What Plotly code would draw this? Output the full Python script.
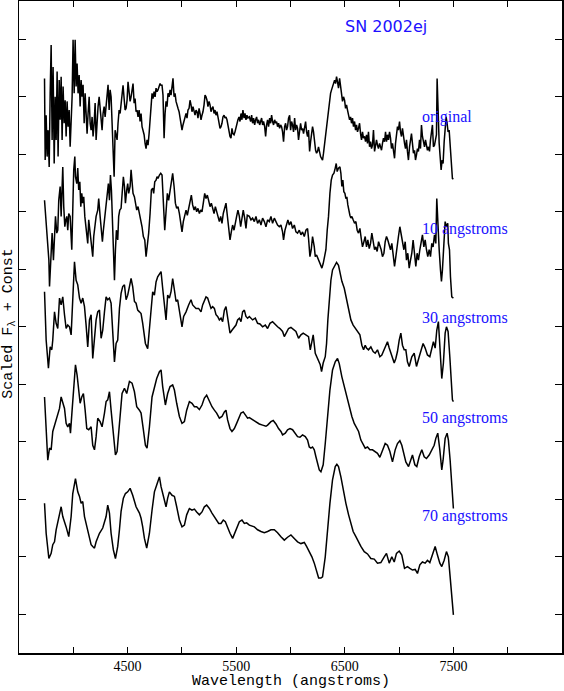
import plotly.graph_objects as go

# ---------------- data (wavelength in angstroms, scaled flux + constant) ----------------
WL_ORIGINAL = [
    3735, 3741, 3750, 3759, 3768, 3778, 3787, 3796, 3805, 3814,
    3824, 3833, 3842, 3851, 3860, 3870, 3879, 3888, 3897, 3906,
    3916, 3925, 3934, 3943, 3952, 3962, 3971, 3980, 3989, 3998,
    4008, 4017, 4026, 4035, 4044, 4054, 4063, 4072, 4081, 4090,
    4100, 4109, 4118, 4127, 4136, 4146, 4155, 4164, 4173, 4182,
    4192, 4201, 4210, 4219, 4228, 4238, 4247, 4256, 4265, 4274,
    4284, 4293, 4302, 4311, 4320, 4330, 4339, 4348, 4357, 4366,
    4376, 4385, 4394, 4403, 4412, 4422, 4431, 4440, 4449, 4458,
    4468, 4477, 4486, 4495, 4504, 4514, 4523, 4532, 4541, 4550,
    4560, 4569, 4578, 4587, 4596, 4606, 4615, 4624, 4633, 4642,
    4652, 4661, 4670, 4679, 4688, 4698, 4707, 4716, 4725, 4734,
    4744, 4753, 4762, 4771, 4780, 4790, 4799, 4808, 4817, 4826,
    4836, 4845, 4854, 4863, 4872, 4882, 4891, 4900, 4909, 4918,
    4928, 4937, 4946, 4955, 4964, 4974, 4983, 4992, 5001, 5010,
    5020, 5029, 5038, 5047, 5056, 5066, 5075, 5084, 5093, 5102,
    5112, 5121, 5130, 5139, 5148, 5158, 5167, 5176, 5185, 5194,
    5204, 5213, 5222, 5231, 5240, 5250, 5259, 5268, 5277, 5286,
    5296, 5305, 5314, 5323, 5332, 5342, 5351, 5360, 5369, 5378,
    5388, 5397, 5406, 5415, 5424, 5434, 5443, 5452, 5461, 5470,
    5480, 5489, 5498, 5507, 5516, 5526, 5535, 5544, 5553, 5562,
    5572, 5581, 5590, 5599, 5608, 5621,
    5633, 5642, 5651, 5660, 5670, 5679, 5688, 5697, 5706, 5716,
    5725, 5734, 5743, 5752, 5762, 5771, 5780, 5789, 5798, 5808,
    5817, 5826, 5835, 5844, 5854, 5863, 5872, 5881, 5890, 5900,
    5909, 5918, 5927, 5936, 5946, 5955, 5964, 5973, 5982, 5992,
    6001, 6010, 6019, 6028, 6038, 6047, 6056, 6065, 6074, 6084,
    6093, 6102, 6111, 6120, 6130, 6139, 6148, 6157, 6166, 6176,
    6185, 6194, 6203, 6212, 6222, 6231, 6240, 6249, 6258, 6268,
    6277, 6286, 6295, 6304, 6314, 6323, 6332, 6341, 6350, 6360,
    6369, 6378, 6387, 6396, 6406, 6415, 6424, 6433, 6442, 6452,
    6461, 6470, 6479, 6488, 6498, 6507, 6516, 6525, 6534, 6544,
    6553, 6562, 6571, 6580, 6590, 6599, 6608, 6617, 6626, 6636,
    6645, 6654, 6663, 6672, 6682, 6691, 6700, 6709, 6718, 6728,
    6737, 6746, 6755, 6764, 6774, 6783, 6792, 6801, 6810, 6820,
    6829, 6838, 6847, 6856, 6866, 6875, 6884, 6893, 6902, 6912,
    6921, 6930, 6939, 6948, 6958, 6967, 6976, 6985, 6994, 7004,
    7013, 7022, 7031, 7040, 7050, 7059, 7068, 7077, 7086, 7096,
    7105, 7114, 7123, 7132, 7142, 7151, 7160, 7169, 7178, 7188,
    7197, 7206, 7215, 7224, 7234, 7243, 7252, 7261, 7270, 7280,
    7289, 7298, 7307, 7316, 7326, 7335, 7344,
    7350, 7359, 7369, 7378, 7387, 7396, 7405, 7415, 7424, 7433,
    7442, 7451, 7461, 7470, 7479,
    7491, 7500,
]
FLUX_ORIGINAL = [
    9.32, 7.90, 8.68, 7.96, 8.42, 7.78, 9.06, 9.90, 8.25, 9.52,
    7.84, 9.00, 8.25, 9.44, 7.96, 9.29, 8.60, 9.35, 8.25, 9.18,
    8.54, 8.94, 8.31, 8.92, 8.48, 8.77, 8.13, 8.65, 9.00, 9.99,
    9.06, 9.99, 9.18, 9.58, 9.06, 9.38, 8.83, 9.29, 9.00, 9.21,
    8.54, 9.06, 8.65, 8.36, 8.71, 9.00, 8.54, 8.42, 8.65, 8.31,
    8.54, 8.89, 8.25, 8.65, 8.83, 9.00, 8.77, 8.48, 8.42, 8.71,
    8.83, 8.65, 8.89, 9.15, 9.21, 8.77, 9.12, 9.00, 8.54, 8.13,
    7.61, 8.42, 8.31, 8.25, 8.54, 8.77, 8.71, 8.86, 9.00, 9.20,
    8.97, 8.77, 8.80, 8.94, 9.26, 9.12, 8.92, 9.00, 9.09, 9.23,
    8.89, 8.97, 8.74, 8.77, 8.65, 8.77, 8.57, 8.71, 8.48, 8.42,
    8.34, 8.19, 8.10, 8.25, 8.16, 8.36, 8.60, 8.89, 9.06, 8.97,
    9.09, 9.00, 9.15, 9.09, 9.12, 9.18, 9.23, 9.20, 9.20, 9.03,
    8.28, 8.71, 8.92, 8.83, 9.06, 9.00, 9.12, 9.03, 9.18, 9.32,
    9.00, 9.06, 8.92, 8.83, 8.80, 8.74, 8.65, 8.54, 8.42, 8.51,
    8.60, 8.65, 8.71, 8.63, 8.77, 8.80, 8.94, 8.86, 8.74, 8.83,
    8.71, 8.68, 8.77, 8.74, 8.63, 8.80, 8.71, 8.60, 8.68, 8.74,
    8.86, 9.03, 9.00, 8.94, 8.83, 8.92, 8.86, 8.74, 8.80, 8.83,
    8.71, 8.77, 8.68, 8.74, 8.65, 8.51, 8.45, 8.48, 8.54, 8.65,
    8.68, 8.63, 8.65, 8.60, 8.48, 8.42, 8.31, 8.28, 8.45, 8.36,
    8.34, 8.39, 8.48, 8.54, 8.60, 8.65, 8.57, 8.71, 8.60, 8.77,
    8.63, 8.71, 8.60, 8.68, 8.63, 8.65,
    8.57, 8.68, 8.54, 8.63, 8.51, 8.60, 8.65, 8.54, 8.60, 8.51,
    8.57, 8.63, 8.51, 8.57, 8.48, 8.31, 8.51, 8.60, 8.48, 8.63,
    8.54, 8.68, 8.57, 8.51, 8.60, 8.54, 8.57, 8.48, 8.54, 8.45,
    8.51, 8.48, 8.39, 8.22, 8.48, 8.54, 8.42, 8.48, 8.63, 8.68,
    8.42, 8.57, 8.51, 8.39, 8.63, 8.42, 8.51, 8.45, 8.25, 8.48,
    8.54, 8.42, 8.45, 8.36, 8.51, 8.57, 8.39, 8.31, 8.42, 8.05,
    8.22, 8.34, 8.48, 8.39, 8.13, 8.07, 8.02, 8.05, 8.13, 7.99,
    7.96, 7.93, 7.90, 8.02, 8.19, 8.31, 8.51, 8.63, 8.74, 8.89,
    9.06, 9.12, 9.18, 9.20, 9.29, 9.23, 9.35, 9.26, 9.15, 9.32,
    9.20, 9.09, 8.92, 9.00, 8.94, 8.80, 8.86, 8.77, 8.68, 8.60,
    8.65, 8.54, 8.63, 8.48, 8.57, 8.42, 8.51, 8.39, 8.45, 8.54,
    8.36, 8.25, 8.39, 8.28, 8.31, 8.22, 8.34, 8.19, 8.39, 8.13,
    8.22, 8.10, 8.16, 8.42, 8.05, 8.13, 8.25, 8.16, 8.10, 8.19,
    8.10, 8.07, 8.19, 8.28, 8.22, 8.39, 8.22, 8.34, 8.25, 8.39,
    8.28, 8.10, 8.19, 8.07, 7.93, 8.19, 8.31, 8.48, 8.42, 8.57,
    8.39, 8.31, 8.45, 8.28, 8.19, 8.10, 8.25, 8.05, 7.90, 8.13,
    8.25, 8.36, 8.19, 8.02, 8.07, 7.90, 7.99, 8.10, 8.05, 8.25,
    8.10, 8.51, 8.31, 8.19, 8.13, 8.25, 8.16, 8.07, 8.13, 8.05,
    8.25, 8.39, 8.51, 8.13, 8.16, 8.25, 8.34,
    9.32, 8.65, 8.19, 7.96, 7.73, 7.90, 7.84, 8.22, 8.42, 8.65,
    8.54, 8.39, 8.42, 8.13, 7.84,
    7.58, 7.57,
]

WL_10 = [
    3735, 3750, 3765, 3775, 3781, 3796, 3805, 3817, 3827, 3836,
    3848, 3857, 3866, 3879, 3888, 3897, 3903, 3912, 3922, 3931,
    3940, 3949, 3958, 3971, 3980, 3986, 3995, 4004, 4014, 4020,
    4032, 4041, 4050, 4060, 4069, 4078, 4087, 4096, 4106, 4118,
    4133, 4142, 4155, 4167, 4179, 4188, 4198, 4210, 4225, 4234,
    4247, 4259, 4268, 4277, 4290, 4302, 4311, 4323, 4333, 4342,
    4351, 4360, 4369, 4379, 4388, 4397, 4409, 4418, 4428, 4440,
    4452, 4461, 4471, 4480, 4492, 4501, 4510, 4523, 4532, 4541,
    4550, 4563, 4572, 4584, 4596, 4609, 4621, 4633, 4645, 4658,
    4670, 4682, 4694, 4707, 4719, 4731, 4740, 4750, 4762, 4771,
    4780, 4793, 4805, 4817, 4829, 4842, 4854, 4866, 4878, 4891,
    4903, 4915, 4928, 4940, 4952, 4964, 4977, 4989, 5001, 5013,
    5026, 5038, 5050, 5062, 5075, 5087, 5099, 5112, 5124, 5136,
    5148, 5161, 5173, 5185, 5197, 5210, 5222, 5234, 5246, 5259,
    5271, 5283, 5296, 5308, 5320, 5332, 5345, 5357, 5369, 5381,
    5394, 5406, 5418, 5430, 5443, 5455, 5467, 5480, 5492, 5504,
    5516, 5529, 5541, 5553, 5565, 5578, 5590, 5602, 5621, 5636,
    5651, 5667, 5682, 5697, 5713, 5728, 5743, 5759, 5774, 5789,
    5805, 5820, 5835, 5851, 5866, 5881, 5897, 5912, 5927, 5936,
    5949, 5964, 5976, 5989, 6004, 6019, 6035, 6050, 6065, 6081,
    6096, 6111, 6127, 6142, 6157, 6166, 6179, 6191, 6203, 6219,
    6228, 6240, 6252, 6265, 6277, 6289, 6301, 6314, 6326, 6338,
    6350, 6363, 6375, 6387, 6400, 6412, 6421, 6430, 6442, 6455,
    6464, 6473, 6482, 6491, 6501, 6510, 6519, 6528, 6538, 6547,
    6556, 6565, 6577, 6590, 6602, 6614, 6626, 6639, 6651, 6663,
    6676, 6688, 6700, 6712, 6725, 6737, 6749, 6761, 6774, 6786,
    6798, 6811, 6823, 6835, 6847, 6860, 6872, 6884, 6896, 6909,
    6921, 6933, 6945, 6958, 6970, 6982, 6994, 7007, 7019, 7031,
    7044, 7056, 7068, 7080, 7093, 7105, 7117, 7129, 7142, 7154,
    7166, 7178, 7191, 7203, 7215, 7228, 7240, 7252, 7264, 7277,
    7289, 7301, 7313, 7326, 7338, 7347, 7356, 7369, 7381, 7390,
    7399, 7412, 7424, 7436, 7448, 7454, 7464, 7473, 7485, 7500,
]
FLUX_10 = [
    7.20, 6.74, 6.45, 6.16, 5.70, 6.34, 6.63, 6.16, 6.57, 6.92,
    6.63, 6.68, 7.20, 7.44, 6.92, 7.32, 7.78, 7.09, 6.74, 6.86,
    6.92, 6.68, 6.97, 6.92, 6.65, 6.34, 7.03, 7.73, 7.96, 7.61,
    7.49, 7.76, 7.38, 7.52, 7.09, 7.32, 7.15, 7.26, 6.92, 6.68,
    6.45, 6.86, 6.63, 6.42, 6.22, 6.57, 6.80, 6.92, 7.03, 7.23,
    6.92, 6.68, 6.48, 6.68, 6.94, 7.09, 7.26, 7.49, 7.20, 7.64,
    7.38, 6.97, 6.34, 5.81, 6.34, 6.68, 6.51, 6.92, 7.03, 7.06,
    7.38, 7.61, 7.44, 7.15, 7.38, 7.49, 7.32, 7.44, 7.73, 7.55,
    7.32, 7.26, 7.12, 7.03, 7.09, 6.97, 6.86, 6.74, 6.57, 6.51,
    6.22, 6.39, 6.63, 6.97, 7.38, 7.41, 7.32, 7.52, 7.55, 7.61,
    7.58, 7.64, 7.67, 7.64, 7.26, 6.68, 7.00, 7.32, 7.20, 7.38,
    7.49, 7.67, 7.44, 7.15, 7.06, 7.09, 6.97, 6.80, 6.65, 6.83,
    6.97, 7.03, 6.94, 7.06, 7.20, 7.29, 7.12, 7.03, 7.09, 7.00,
    7.06, 6.97, 7.03, 7.00, 7.15, 7.32, 7.23, 7.29, 7.20, 7.09,
    7.15, 7.06, 6.97, 7.09, 7.00, 6.89, 6.83, 6.92, 6.80, 6.97,
    7.06, 7.15, 6.94, 6.74, 6.51, 6.65, 6.77, 6.68, 6.83, 6.92,
    7.03, 6.92, 6.74, 6.94, 7.03, 6.89, 6.71, 6.94, 6.92, 6.86,
    6.89, 6.83, 6.92, 6.80, 6.86, 6.77, 6.89, 6.83, 6.74, 6.86,
    6.83, 6.92, 6.80, 6.89, 6.83, 6.77, 6.74, 6.77, 6.65, 6.51,
    6.68, 6.77, 6.86, 6.77, 6.83, 6.71, 6.77, 6.65, 6.63, 6.68,
    6.60, 6.65, 6.57, 6.68, 6.71, 6.54, 6.22, 6.34, 6.57, 6.39,
    6.22, 6.25, 6.19, 6.16, 6.07, 6.02, 6.10, 6.22, 6.34, 6.68,
    6.92, 7.32, 7.55, 7.64, 7.67, 7.76, 7.84, 7.70, 7.76, 7.78,
    7.67, 7.44, 7.55, 7.35, 7.32, 7.23, 7.26, 7.12, 7.00, 6.94,
    6.89, 6.92, 6.86, 6.80, 6.83, 6.68, 6.63, 6.71, 6.54, 6.39,
    6.48, 6.57, 6.39, 6.51, 6.36, 6.45, 6.63, 6.48, 6.34, 6.39,
    6.31, 6.48, 6.42, 6.34, 6.22, 6.28, 6.48, 6.57, 6.51, 6.39,
    6.34, 6.45, 6.28, 6.05, 6.22, 6.45, 6.57, 6.74, 6.60, 6.51,
    6.34, 6.48, 6.16, 6.28, 6.02, 6.16, 6.28, 6.51, 6.22, 6.05,
    6.28, 6.16, 6.34, 6.51, 6.60, 6.39, 6.51, 6.34, 6.22, 6.34,
    6.22, 6.45, 6.39, 6.60, 6.45, 7.23, 6.80, 6.34, 5.99, 5.79,
    5.99, 6.34, 6.83, 6.74, 6.80, 6.45, 6.34, 5.87, 5.52, 5.50,
]

WL_30 = [
    3735, 3750, 3771, 3787, 3802, 3811, 3827, 3842, 3857, 3873,
    3888, 3903, 3919, 3934, 3949, 3965, 3980, 3995, 4011, 4026,
    4041, 4057, 4072, 4087, 4103, 4118, 4133, 4149, 4164, 4179,
    4195, 4210, 4225, 4241, 4256, 4271, 4287, 4302, 4317, 4333,
    4348, 4363, 4379, 4394, 4409, 4425, 4440, 4455, 4471, 4486,
    4501, 4517, 4532, 4547, 4563, 4578, 4593, 4609, 4624, 4639,
    4664, 4685, 4701, 4716, 4731, 4747, 4762, 4777, 4793, 4808,
    4823, 4839, 4854, 4869, 4885, 4900, 4915, 4931, 4946, 4961,
    4977, 5001, 5016, 5038, 5062, 5084, 5099, 5115, 5130, 5154,
    5176, 5191, 5207, 5222, 5237, 5253, 5268, 5283, 5299, 5314,
    5329, 5345, 5360, 5375, 5391, 5406, 5421, 5443, 5461, 5483,
    5498, 5513, 5529, 5544, 5559, 5575, 5590, 5605, 5621, 5651,
    5676, 5697, 5719, 5743, 5768, 5789, 5811, 5835, 5860, 5881,
    5903, 5927, 5943, 5964, 5982, 6004, 6025, 6050, 6074, 6096,
    6117, 6142, 6166, 6182, 6197, 6209, 6228, 6243, 6258, 6274,
    6286, 6301, 6320, 6332, 6344, 6357, 6372, 6387, 6403, 6424,
    6442, 6455, 6473, 6495, 6510, 6525, 6541, 6556, 6577, 6596,
    6617, 6639, 6657, 6673, 6688, 6700, 6718, 6740, 6761, 6780,
    6801, 6823, 6841, 6863, 6878, 6893, 6909, 6933, 6955, 6970,
    6985, 7001, 7016, 7031, 7047, 7062, 7077, 7093, 7117, 7139,
    7160, 7185, 7209, 7221, 7240, 7261, 7283, 7301, 7316, 7332,
    7347, 7362, 7378, 7393, 7408, 7424, 7436, 7451, 7467, 7479,
    7491, 7500,
]
FLUX_30 = [
    5.61, 4.77, 4.28, 4.65, 4.60, 4.77, 5.26, 5.06, 4.97, 5.50,
    5.38, 5.52, 5.21, 4.97, 5.03, 5.00, 4.86, 5.64, 6.13, 5.81,
    5.73, 5.50, 5.41, 5.50, 5.35, 5.03, 4.65, 5.12, 5.21, 4.45,
    4.83, 5.12, 5.26, 5.29, 4.80, 4.94, 5.26, 5.52, 5.47, 5.50,
    5.41, 4.89, 4.39, 4.71, 4.77, 5.32, 5.58, 5.70, 5.73, 5.47,
    5.55, 5.70, 5.84, 5.70, 5.44, 5.41, 5.29, 5.26, 5.23, 5.06,
    4.71, 4.62, 4.94, 5.35, 5.61, 5.55, 5.78, 5.87, 5.93, 5.96,
    5.67, 5.38, 5.12, 5.55, 5.50, 5.61, 5.84, 5.64, 5.44, 5.47,
    5.26, 5.00, 5.18, 5.26, 5.38, 5.47, 5.38, 5.35, 5.32, 5.32,
    5.26, 5.38, 5.44, 5.52, 5.50, 5.38, 5.32, 5.35, 5.32, 5.21,
    5.18, 5.12, 5.15, 5.09, 5.29, 5.35, 5.18, 4.89, 4.94, 5.00,
    5.03, 5.12, 5.15, 5.09, 5.26, 5.29, 5.18, 5.15, 5.18, 5.12,
    5.15, 5.06, 5.05, 5.00, 5.03, 4.97, 5.06, 5.09, 5.03, 5.00,
    4.97, 4.92, 4.83, 4.92, 4.97, 4.99, 4.96, 4.92, 4.80, 4.86,
    4.89, 4.86, 4.83, 4.60, 4.77, 4.86, 4.54, 4.48, 4.42, 4.34,
    4.22, 4.37, 4.48, 4.71, 5.12, 5.52, 5.81, 5.99, 6.06, 6.12,
    6.07, 5.96, 5.79, 5.67, 5.52, 5.38, 5.21, 5.12, 5.03, 4.97,
    4.92, 4.86, 4.68, 4.60, 4.68, 4.63, 4.60, 4.65, 4.57, 4.54,
    4.60, 4.48, 4.51, 4.60, 4.68, 4.74, 4.63, 4.51, 4.37, 4.45,
    4.57, 4.77, 4.89, 4.68, 4.60, 4.60, 4.39, 4.31, 4.48, 4.54,
    4.31, 4.48, 4.63, 4.71, 4.63, 4.51, 4.48, 4.65, 4.74, 4.63,
    4.94, 5.09, 4.60, 4.10, 4.37, 4.89, 5.00, 4.92, 4.48, 4.13,
    3.73, 3.70,
]

WL_50 = [
    3735, 3750, 3765, 3781, 3796, 3811, 3827, 3842, 3857, 3873,
    3888, 3903, 3919, 3934, 3949, 3965, 3974, 3989, 4004, 4020,
    4035, 4050, 4063, 4078, 4093, 4109, 4124, 4142, 4164, 4179,
    4195, 4210, 4225, 4247, 4265, 4287, 4302, 4317, 4333, 4348,
    4363, 4388, 4403, 4419, 4434, 4449, 4471, 4492, 4517, 4541,
    4563, 4584, 4609, 4624, 4645, 4664, 4679, 4701, 4725, 4747,
    4768, 4793, 4808, 4823, 4848, 4869, 4891, 4915, 4931, 4952,
    4977, 5001, 5023, 5044, 5069, 5093, 5115, 5136, 5161, 5185,
    5207, 5228, 5253, 5277, 5299, 5320, 5345, 5369, 5391, 5406,
    5421, 5443, 5461, 5483, 5504, 5523, 5544, 5565, 5584, 5605,
    5621, 5651, 5682, 5713, 5743, 5774, 5789, 5820, 5841, 5866,
    5890, 5912, 5927, 5952, 5973, 5995, 6019, 6044, 6065, 6087,
    6111, 6136, 6157, 6173, 6188, 6203, 6219, 6234, 6249, 6265,
    6280, 6301, 6320, 6341, 6363, 6387, 6412, 6433, 6449, 6473,
    6495, 6516, 6541, 6565, 6587, 6608, 6627, 6648, 6669, 6688,
    6709, 6731, 6755, 6780, 6801, 6823, 6847, 6872, 6893, 6915,
    6939, 6964, 6985, 7007, 7025, 7047, 7062, 7087, 7108, 7123,
    7145, 7163, 7185, 7209, 7231, 7252, 7277, 7301, 7323, 7338,
    7356, 7375, 7393, 7405, 7424, 7442, 7454, 7470, 7485, 7500,
]
FLUX_50 = [
    3.78, 3.26, 2.68, 2.89, 2.86, 3.18, 3.29, 3.38, 3.47, 3.58,
    3.78, 3.70, 3.58, 3.32, 3.26, 3.32, 3.15, 3.55, 4.02, 4.34,
    4.16, 3.90, 3.67, 3.78, 3.84, 3.55, 3.23, 3.21, 3.26, 2.94,
    2.86, 3.09, 3.41, 3.35, 3.26, 3.50, 3.70, 3.73, 3.87, 3.55,
    3.21, 2.77, 2.83, 3.21, 3.55, 3.84, 3.93, 3.84, 4.05, 4.02,
    3.87, 3.61, 3.55, 3.50, 3.21, 2.94, 2.89, 3.26, 3.78, 3.93,
    4.10, 4.22, 4.25, 3.96, 3.64, 3.84, 3.96, 3.99, 3.90, 3.67,
    3.44, 3.32, 3.35, 3.55, 3.70, 3.67, 3.61, 3.61, 3.56, 3.64,
    3.76, 3.81, 3.70, 3.61, 3.55, 3.50, 3.41, 3.44, 3.52, 3.55,
    3.38, 3.23, 3.18, 3.23, 3.32, 3.41, 3.50, 3.52, 3.47, 3.41,
    3.42, 3.38, 3.35, 3.31, 3.29, 3.27, 3.29, 3.35, 3.37, 3.31,
    3.23, 3.18, 3.12, 3.15, 3.21, 3.23, 3.21, 3.15, 3.09, 3.08,
    3.12, 3.09, 3.03, 2.91, 2.89, 2.91, 2.86, 2.74, 2.60, 2.51,
    2.48, 2.60, 2.97, 3.44, 3.90, 4.25, 4.39, 4.45, 4.36, 4.13,
    3.96, 3.78, 3.58, 3.44, 3.32, 3.23, 3.18, 3.03, 2.94, 2.89,
    2.91, 2.86, 2.86, 2.83, 2.80, 2.73, 2.86, 2.97, 2.94, 2.83,
    2.65, 2.86, 2.97, 3.02, 2.94, 2.74, 2.65, 2.57, 2.68, 2.77,
    2.60, 2.57, 2.74, 2.86, 2.74, 2.71, 2.77, 2.86, 2.94, 3.06,
    3.15, 2.86, 2.51, 2.68, 3.06, 3.15, 3.03, 2.68, 2.16, 1.84,
]

WL_70 = [
    3735, 3750, 3775, 3796, 3811, 3827, 3842, 3857, 3873, 3888,
    3903, 3919, 3934, 3958, 3980, 3995, 4020, 4041, 4057, 4072,
    4087, 4103, 4118, 4133, 4149, 4164, 4179, 4195, 4210, 4225,
    4241, 4271, 4302, 4317, 4333, 4348, 4369, 4388, 4409, 4425,
    4440, 4461, 4480, 4501, 4523, 4547, 4578, 4609, 4624, 4639,
    4655, 4676, 4701, 4725, 4747, 4768, 4793, 4808, 4829, 4854,
    4869, 4885, 4909, 4931, 4952, 4977, 5001, 5023, 5044, 5069,
    5093, 5115, 5136, 5161, 5185, 5207, 5228, 5253, 5277, 5299,
    5314, 5339, 5360, 5381, 5400, 5421, 5443, 5467, 5492, 5513,
    5529, 5553, 5575, 5596, 5621, 5667, 5697, 5728, 5759, 5789,
    5820, 5851, 5881, 5912, 5943, 5973, 6004, 6035, 6065, 6096,
    6127, 6148, 6173, 6197, 6219, 6240, 6259, 6280, 6295, 6320,
    6341, 6363, 6387, 6412, 6427, 6442, 6464, 6485, 6510, 6535,
    6556, 6577, 6602, 6626, 6648, 6679, 6709, 6740, 6771, 6801,
    6832, 6863, 6884, 6909, 6933, 6955, 6976, 7001, 7025, 7050,
    7077, 7099, 7123, 7148, 7169, 7191, 7215, 7240, 7261, 7283,
    7307, 7332, 7353, 7375, 7393, 7415, 7436, 7454, 7470, 7485,
    7500,
]
FLUX_70 = [
    1.93, 1.41, 0.97, 1.06, 1.21, 1.26, 1.47, 1.61, 1.70, 1.87,
    1.70, 1.58, 1.52, 1.35, 1.70, 2.10, 2.36, 2.13, 2.05, 1.93,
    1.96, 1.70, 1.58, 1.41, 1.29, 1.21, 1.18, 1.15, 1.26, 1.35,
    1.41, 1.50, 1.70, 1.90, 1.76, 1.41, 1.12, 0.97, 1.18, 1.47,
    1.79, 2.02, 2.10, 2.13, 2.19, 2.07, 1.87, 1.76, 1.67, 1.52,
    1.32, 1.15, 1.41, 1.81, 2.13, 2.25, 2.39, 2.22, 2.05, 1.87,
    2.02, 2.13, 2.07, 2.05, 1.87, 1.64, 1.52, 1.55, 1.73, 1.84,
    1.81, 1.83, 1.78, 1.73, 1.78, 1.87, 1.90, 1.84, 1.76, 1.70,
    1.64, 1.58, 1.58, 1.64, 1.61, 1.50, 1.41, 1.32, 1.44, 1.55,
    1.61, 1.64, 1.58, 1.59, 1.55, 1.52, 1.47, 1.44, 1.42, 1.44,
    1.47, 1.47, 1.42, 1.35, 1.29, 1.34, 1.38, 1.32, 1.26, 1.23,
    1.25, 1.18, 1.09, 1.00, 0.89, 0.74, 0.63, 0.63, 0.65, 1.00,
    1.47, 1.93, 2.34, 2.57, 2.61, 2.57, 2.39, 2.16, 1.93, 1.73,
    1.58, 1.44, 1.35, 1.26, 1.18, 1.09, 1.05, 0.97, 0.96, 0.89,
    0.90, 1.00, 1.06, 0.89, 1.00, 0.91, 1.06, 1.10, 1.03, 0.80,
    0.83, 0.80, 0.77, 0.78, 0.71, 0.86, 0.91, 0.89, 0.94, 0.90,
    1.03, 1.18, 1.03, 0.89, 0.83, 0.94, 1.09, 1.00, 0.65, 0.36,
    -0.01,
]

SERIES_LABELS = ["original", "10 angstroms", "30 angstroms", "50 angstroms", "70 angstroms"]
LABEL_WL = [7195, 7192, 7192, 7192, 7192]
LABEL_Y = [8.65, 6.70, 5.15, 3.42, 1.71]
TITLE_TEXT = "SN 2002ej"
X_MAJOR_TICKS = [4500, 5500, 6500, 7500]
X_MINOR_TICKS = [4000, 5000, 6000, 7000, 8000]
Y_TICK_VALUES = [0, 1, 2, 3, 4, 5, 6, 7, 8, 9, 10]

# ---------------- figure ----------------
BLUE = "#2010ff"
spectra = [
    (WL_ORIGINAL, FLUX_ORIGINAL),
    (WL_10, FLUX_10),
    (WL_30, FLUX_30),
    (WL_50, FLUX_50),
    (WL_70, FLUX_70),
]

fig = go.Figure()
for (wl, fl), name in zip(spectra, SERIES_LABELS):
    fig.add_trace(go.Scatter(x=wl, y=fl, mode="lines", name=name,
                             line=dict(color="black", width=1.5),
                             hoverinfo="skip", showlegend=False))

annotations = []
for name, lx, ly in zip(SERIES_LABELS, LABEL_WL, LABEL_Y):
    annotations.append(dict(x=lx, y=ly, xref="x", yref="y", text=name,
                            showarrow=False, xanchor="left", yanchor="middle",
                            font=dict(family="Liberation Serif", size=16, color=BLUE)))
annotations.append(dict(x=6881, y=10.23, xref="x", yref="y", text=TITLE_TEXT,
                        showarrow=False, xanchor="center", yanchor="middle",
                        font=dict(family="DejaVu Sans", size=16, color=BLUE)))
annotations.append(dict(x=0.501, y=-0.0435, xref="paper", yref="paper",
                        text="Wavelength (angstroms)", showarrow=False,
                        xanchor="center", yanchor="middle",
                        font=dict(family="Liberation Mono", size=15, color="black")))
annotations.append(dict(x=-0.0185, y=0.505, xref="paper", yref="paper",
                        text="Scaled F<sub>λ</sub> + Const", showarrow=False,
                        textangle=-90, xanchor="center", yanchor="middle",
                        font=dict(family="Liberation Mono", size=15, color="black")))

fig.update_layout(
    template="none",
    width=564, height=691,
    margin=dict(l=19, r=2, t=1, b=38, pad=0, autoexpand=False),
    paper_bgcolor="white", plot_bgcolor="white",
    showlegend=False,
    annotations=annotations,
)
fig.update_xaxes(range=[3500, 8500], tickmode="array", tickvals=X_MAJOR_TICKS,
                 ticks="inside", ticklen=6, tickwidth=1,
                 tickcolor="black", showline=True, linecolor="black", linewidth=1.5,
                 mirror="allticks", showgrid=False, zeroline=False, automargin=False,
                 minor=dict(tickmode="array", tickvals=X_MINOR_TICKS, ticks="inside",
                            ticklen=6, tickwidth=1, tickcolor="black", showgrid=False),
                 tickfont=dict(family="Liberation Serif", size=14, color="black"))
fig.update_yaxes(range=[-0.673, 10.666], tickmode="array", tickvals=Y_TICK_VALUES,
                 ticks="inside", ticklen=7, tickwidth=1, tickcolor="black",
                 showticklabels=False, showline=True, linecolor="black", linewidth=1.5,
                 mirror="allticks", showgrid=False, zeroline=False, automargin=False)

fig.write_html("out.html",
               config={"displayModeBar": False, "staticPlot": True},
               post_script="document.body.style.margin='0';document.body.style.overflow='hidden';")
